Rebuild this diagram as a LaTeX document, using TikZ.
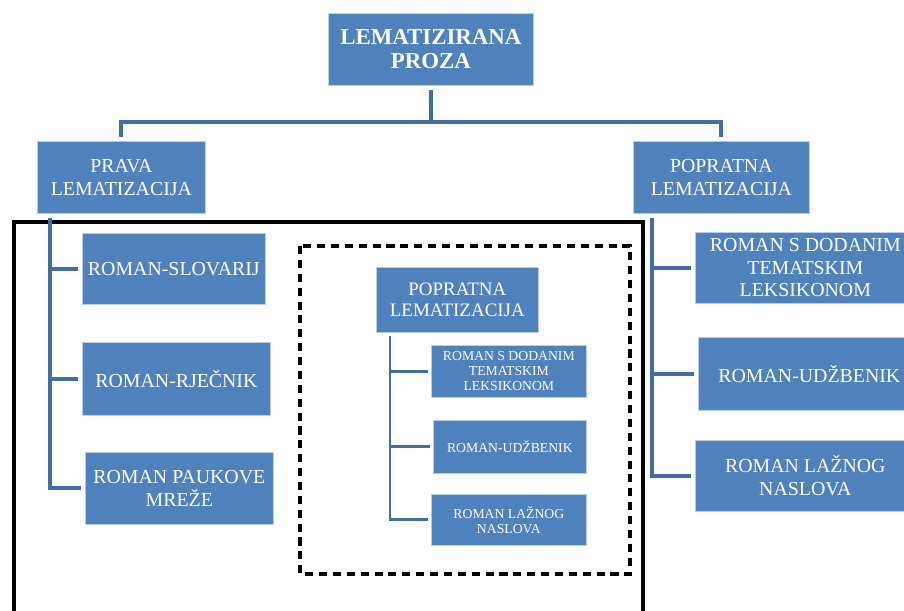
\documentclass[tikz,border=0pt]{standalone}
\usepackage{fontspec}
\setmainfont{Liberation Serif}
\usepackage{tikz}
\definecolor{kotakbiru}{RGB}{79,129,189}
\definecolor{tepibiru}{RGB}{188,206,230}
\definecolor{garisbiru}{RGB}{66,110,165}

\begin{document}
\begin{tikzpicture}[x=0.02cm,y=-0.02cm,
    kotak/.style={draw=tepibiru,line width=0.4pt,fill=kotakbiru,text=white,align=center,anchor=north west,inner sep=0pt},
    ukuran/.style 2 args={minimum width=#1*0.02cm,minimum height=#2*0.02cm},
    besar/.style={font=\fontsize{11.3}{12.8}\selectfont},
    kecil/.style={font=\fontsize{7.8}{8.6}\selectfont},
    garis/.style={garisbiru,line width=2.2pt,shorten <=2.5pt,shorten >=2.5pt},
    garistipis/.style={garisbiru,line width=1.6pt,shorten <=2pt,shorten >=1.5pt}]

    % Batas gambar
    \useasboundingbox (0,0) rectangle (904,610);
    \clip (0,0) rectangle (904,610);

    % Kotak utama di atas
    \node[kotak,ukuran={205}{72},font=\bfseries\fontsize{13}{13.5}\selectfont] (lema) at (328,13) {LEMATIZIRANA\\PROZA};

    % Dua cabang utama
    \node[kotak,besar,ukuran={168}{72}] (prava) at (37,141) {PRAVA\\LEMATIZACIJA};
    \node[kotak,besar,ukuran={176}{72}] (popr) at (633,141) {POPRATNA\\LEMATIZACIJA};

    % Garis dari kotak utama ke dua cabang
    \coordinate (bus) at (431,122);
    \draw[garis,shorten >=0pt] (lema.south) -- (bus);
    \draw[garis] (prava.north) |- (bus) -| (popr.north);

    % Bingkai hitam dan bingkai putus-putus
    \draw[black,line width=1.9pt] (14,625) -- (14,222) -- (643,222) -- (643,625);
    \draw[black,line width=2pt,dash pattern=on 4.6pt off 3.3pt] (300,246) rectangle (630,574);

    % Anak cabang kiri
    \node[kotak,besar,ukuran={183}{71}] (slov) at (82,233) {ROMAN-SLOVARIJ};
    \node[kotak,besar,ukuran={188}{73}] (rjec) at (82,342) {ROMAN-RJEČNIK};
    \node[kotak,besar,ukuran={188}{72}] (pauk) at (85,452) {ROMAN PAUKOVE\\MREŽE};
    \foreach \b in {slov,rjec,pauk}
        \draw[garis] (prava.south west) ++(13,0) |- (\b.west);

    % Anak cabang kanan
    \node[kotak,besar,ukuran={220}{71}] (tem) at (695,232) {ROMAN S DODANIM\\TEMATSKIM\\LEKSIKONOM};
    \node[kotak,besar,ukuran={222}{73}] (udz) at (698,337) {ROMAN-UDŽBENIK};
    \node[kotak,besar,ukuran={220}{71}] (laz) at (695,440) {ROMAN LAŽNOG\\NASLOVA};
    \foreach \b in {tem,udz,laz}
        \draw[garis] (popr.south west) ++(19,0) |- (\b.west);

    % Salinan kecil di dalam bingkai putus-putus
    \node[kotak,ukuran={162}{65},font=\fontsize{10.8}{12.4}\selectfont] (dpopr) at (376,267) {POPRATNA\\LEMATIZACIJA};
    \node[kotak,kecil,ukuran={155}{52}] (dtem) at (431,345) {ROMAN S DODANIM\\TEMATSKIM\\LEKSIKONOM};
    \node[kotak,kecil,ukuran={153}{53}] (dudz) at (433,420) {ROMAN-UDŽBENIK};
    \node[kotak,kecil,ukuran={155}{51}] (dlaz) at (431,494) {ROMAN LAŽNOG\\NASLOVA};
    \foreach \b in {dtem,dudz,dlaz}
        \draw[garistipis] (dpopr.south west) ++(14,0) |- (\b.west);

\end{tikzpicture}
\end{document}
